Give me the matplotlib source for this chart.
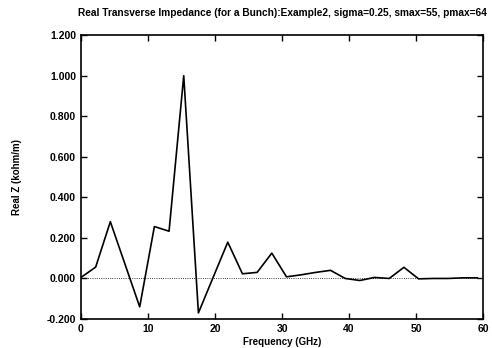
import matplotlib
matplotlib.use('Agg')
import matplotlib.pyplot as plt
import numpy as np

plt.rcParams['font.family'] = 'Liberation Sans'
plt.rcParams['font.weight'] = 'bold'

step = 2.19
real_z = [0.005, 0.056, 0.28, 0.07, -0.14, 0.256, 0.233, 1.0, -0.17, 0.005,
          0.179, 0.023, 0.03, 0.125, 0.008, 0.018, 0.03, 0.04, 0.0, -0.01,
          0.005, 0.0, 0.055, -0.002, 0.0, 0.0, 0.003, 0.003]
freq = [k * step for k in range(len(real_z))]

title = 'Real Transverse Impedance (for a Bunch):Example2, sigma=0.25, smax=55, pmax=64'
x_ticks = [0, 10, 20, 30, 40, 50, 60]
y_ticks = [-0.2, 0.0, 0.2, 0.4, 0.6, 0.8, 1.0, 1.2]

fig = plt.figure(figsize=(4.92, 3.48), dpi=100)
ax = fig.add_axes([0.1646, 0.0833, 0.8174, 0.8157])

ax.axhline(0, color='black', linestyle=':', linewidth=0.6)
ax.plot(freq, real_z, color='black', linewidth=1.2)

ax.set_xlim(0, 60)
ax.set_ylim(-0.2, 1.2)
ax.set_xticks(x_ticks)
ax.set_yticks(y_ticks)
ax.set_yticklabels([f'{v:.3f}' for v in y_ticks])
ax.tick_params(direction='in', top=True, right=True, labelsize=7.5, length=4, width=1)
for s in ax.spines.values():
    s.set_linewidth(1.2)

ax.set_xlabel('Frequency (GHz)', fontsize=7, fontweight='bold', labelpad=2)
ax.set_ylabel('Real Z (kohm/m)', fontsize=7, fontweight='bold', labelpad=18)
ax.set_title(title, fontsize=7.3, fontweight='bold', pad=14)

fig.savefig('out.png', dpi=100)
